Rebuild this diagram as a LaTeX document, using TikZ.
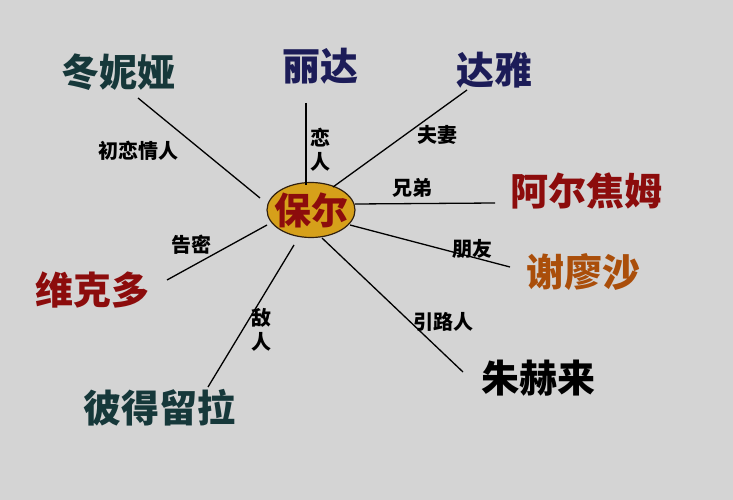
\documentclass[tikz,border=0pt]{standalone}
\usepackage{fontspec}
\newfontfamily\cjk{Noto Sans CJK SC}
\usetikzlibrary{shapes.geometric}
\definecolor{bg}{RGB}{212,212,212}
\definecolor{dteal}{RGB}{22,56,58}
\definecolor{navy}{RGB}{28,28,88}
\definecolor{dred}{RGB}{140,12,12}
\definecolor{rust}{RGB}{170,78,10}
\definecolor{gold}{RGB}{214,160,26}
\tikzset{
  person/.style={font=\cjk\bfseries\fontsize{38}{40}\selectfont, inner sep=0pt},
  rel/.style={font=\cjk\bfseries\fontsize{20}{22}\selectfont, inner sep=0pt, text=black},
  link/.style={draw=black, line width=1.3pt},
}
\begin{document}
\begin{tikzpicture}[x=1pt,y=-1pt]
\fill[bg] (0,0) rectangle (733,500);
\useasboundingbox (0,0) rectangle (733,500);

% centre
\node[ellipse, draw=black!75!brown, line width=1.2pt, fill=gold, minimum width=88pt, minimum height=55pt,
      font=\cjk\bfseries\fontsize{37}{40}\selectfont, text=dred, inner xsep=-6pt, inner ysep=0pt] (paul) at (311,210) {保尔};

% names
\node[person, text=dteal] (dny) at (118,72) {冬妮娅};
\node[person, text=navy] (ld) at (320,66) {丽达};
\node[person, text=navy] (dy) at (494,70) {达雅};
\node[person, text=dred] (aej) at (586,191) {阿尔焦姆};
\node[person, text=rust] (xls) at (583,272) {谢廖沙};
\node[person, text=dred] (wkd) at (92,290) {维克多};
\node[person, text=black] (zhl) at (538,378) {朱赫来};
\node[person, text=dteal] (bdll) at (159,408) {彼得留拉};

% line end points
\coordinate (a1) at (138,98);  \coordinate (a2) at (260,198);
\coordinate (b1) at (306,103); \coordinate (b2) at (306,185);
\coordinate (c1) at (467,90);  \coordinate (c2) at (333,187);
\coordinate (d1) at (495,203); \coordinate (d2) at (355,204);
\coordinate (e1) at (510,267); \coordinate (e2) at (350,225);
\coordinate (f1) at (463,372); \coordinate (f2) at (322,238);
\coordinate (g1) at (208,387); \coordinate (g2) at (294,245);
\coordinate (h1) at (167,280); \coordinate (h2) at (267,225);

\draw[link] (a1) -- (a2);
\draw[link] (b1) -- (b2);
\draw[link] (c1) -- (c2);
\draw[link] (d1) -- (d2);
\draw[link] (e1) -- (e2);
\draw[link] (f1) -- (f2);
\draw[link] (g1) -- (g2);
\draw[link] (h1) -- (h2);

% relation labels
\node[rel] (r1) at (138,151) {初恋情人};
\node[rel, align=center] (r2) at (320,150) {恋\\[2pt]人};
\node[rel] (r3) at (437,135) {夫妻};
\node[rel] (r4) at (412,188) {兄弟};
\node[rel] (r5) at (472,249) {朋友};
\node[rel] (r6) at (443,322) {引路人};
\node[rel, align=center] (r7) at (261,330) {敌\\[2pt]人};
\node[rel] (r8) at (191,245) {告密};
\end{tikzpicture}
\end{document}
